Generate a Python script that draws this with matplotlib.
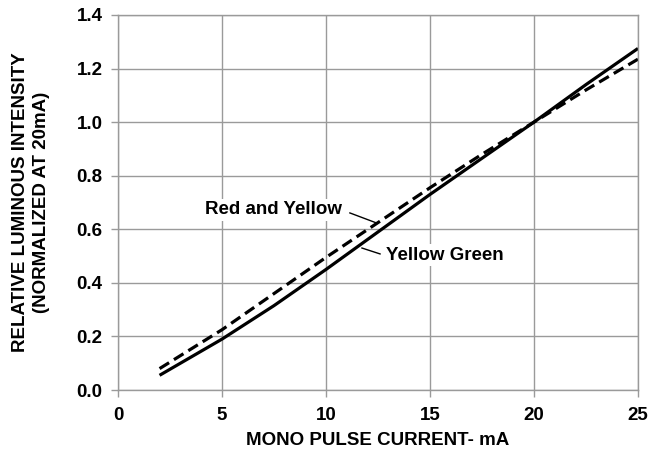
import matplotlib.pyplot as plt

plt.rcParams["font.family"] = ["Liberation Sans", "DejaVu Sans"]
plt.rcParams["font.weight"] = "bold"

# forward current (mA) and relative intensity
current_ma = [2, 5, 7.5, 10, 12.5, 15, 17.5, 20, 22.5, 25]
yellow_green = [0.055, 0.19, 0.315, 0.45, 0.59, 0.73, 0.865, 1.0, 1.14, 1.275]
red_yellow = [0.08, 0.225, 0.36, 0.495, 0.625, 0.755, 0.88, 1.0, 1.12, 1.235]

x_ticks = [0, 5, 10, 15, 20, 25]
y_ticks = [0.0, 0.2, 0.4, 0.6, 0.8, 1.0, 1.2, 1.4]

fs = 13.5

fig = plt.figure(figsize=(6.5, 4.53), dpi=100)
ax = fig.add_axes([0.1815, 0.139, 0.8, 0.828])

ax.plot(current_ma, yellow_green, color="black", lw=2.3, solid_capstyle="butt")
ax.plot(current_ma, red_yellow, color="black", lw=2.3, dashes=(3.5, 1.8))

ax.set_xlim(0, 25)
ax.set_ylim(0, 1.4)
ax.set_xticks(x_ticks)
ax.set_yticks(y_ticks)
ax.set_xticklabels([str(t) for t in x_ticks])
ax.set_yticklabels([f"{t:.1f}" for t in y_ticks])
ax.grid(True, color="#9a9a9a", lw=1.0)
ax.set_axisbelow(True)
for s in ax.spines.values():
    s.set_color("#9a9a9a")
    s.set_linewidth(1.0)
ax.tick_params(colors="#9a9a9a", length=5, width=1.0, labelcolor="black",
               labelsize=fs, pad=6)
ax.tick_params(axis="x", pad=7)

ax.set_xlabel("MONO PULSE CURRENT- mA", fontsize=fs, fontweight="bold", labelpad=6)
ax.set_ylabel("RELATIVE LUMINOUS INTENSITY\n(NORMALIZED AT 20mA)", fontsize=fs,
              fontweight="bold", labelpad=19, linespacing=1.3)

box = dict(facecolor="white", edgecolor="none", pad=2)
ax.text(7.48, 0.672, "Red and Yellow", fontsize=fs, fontweight="bold",
        ha="center", va="center", bbox=box)
ax.plot([11.15, 12.45], [0.661, 0.623], color="black", lw=1.0)
ax.text(15.72, 0.504, "Yellow Green", fontsize=fs, fontweight="bold",
        ha="center", va="center", bbox=box)
ax.plot([11.73, 12.6], [0.53, 0.508], color="black", lw=1.0)

fig.savefig("out.png", dpi=100)
